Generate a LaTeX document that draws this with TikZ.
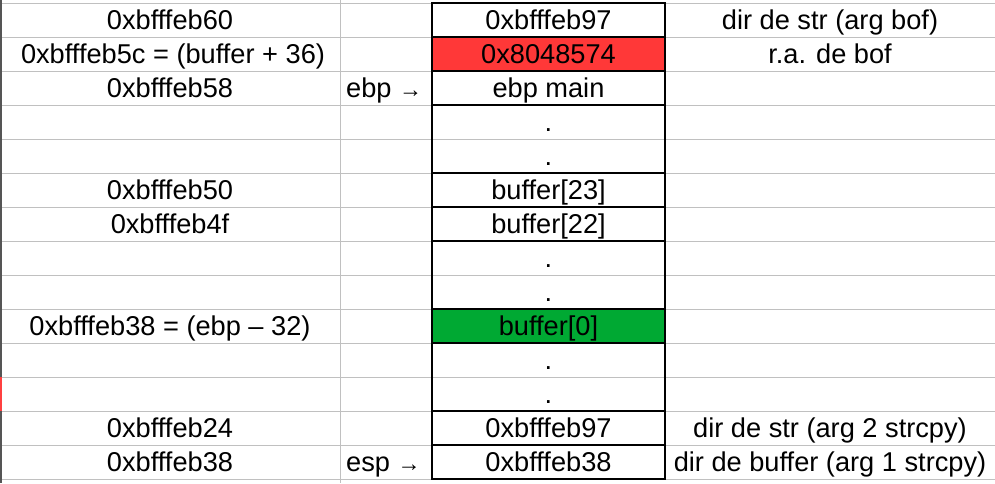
\documentclass[tikz,border=0pt]{standalone}
\usepackage{fontspec}
\setmainfont{Liberation Sans}
\definecolor{gridgray}{HTML}{C0C0C0}
\definecolor{edgegray}{HTML}{555555}
\definecolor{cellred}{HTML}{FF3838}
\definecolor{cellgreen}{HTML}{00A933}
\newcommand{\regarrow}{{\fontsize{23}{26}\selectfont →}}
\begin{document}
\begin{tikzpicture}[x=1pt,y=-1pt,
  txt/.style={font=\fontsize{27.2}{31}\selectfont, inner sep=0pt, anchor=base},
  cell/.style={draw=black, line width=1.6pt, minimum width=233pt, minimum height=34pt,
    inner sep=0pt, font=\fontsize{27.2}{31}\selectfont, text height=24pt, text depth=5.4pt},
  gridline/.style={draw=gridgray, line width=0.8pt}]
\useasboundingbox (0,0) rectangle (995,483);
\fill[white] (0,0) rectangle (995,483);
% spreadsheet grid
\foreach \k in {0,...,14} \draw[gridline] (0,3+34*\k) -- (995,3+34*\k);
\draw[gridline] (340,0) -- (340,483);
\draw[edgegray, line width=1.6pt] (1,0) -- (1,483);
\draw[red!75!white, line width=2pt] (1,377) -- (1,411);
% stack column
\node[cell] (c1) at (548.5,20) {0xbfffeb97};
\node[cell, fill=cellred] (c2) at (548.5,54) {0x8048574};
\node[cell] (c3) at (548.5,88) {ebp main};
\node[cell, minimum height=68pt] (c45) at (548.5,139) {};
\node[cell] (c6) at (548.5,190) {buffer[23]};
\node[cell] (c7) at (548.5,224) {buffer[22]};
\node[cell, minimum height=68pt] (c89) at (548.5,275) {};
\node[cell, fill=cellgreen] (c10) at (548.5,326) {buffer[0]};
\node[cell, minimum height=68pt] (c1112) at (548.5,377) {};
\node[cell] (c13) at (548.5,428) {0xbfffeb97};
\node[cell] (c14) at (548.5,462) {0xbfffeb38};
% elided entries
\node[txt] (d4) at (548.5,131.3) {.};
\node[txt] (d5) at (548.5,165.3) {.};
\node[txt] (d8) at (548.5,267.3) {.};
\node[txt] (d9) at (548.5,301.3) {.};
\node[txt] (d11) at (548.5,369.3) {.};
\node[txt] (d12) at (548.5,403.3) {.};
% addresses
\node[txt] (a1) at (170,29.3) {0xbfffeb60};
\node[txt] (a2) at (173,63.3) {0xbfffeb5c = (buffer + 36)};
\node[txt] (a3) at (170,97.3) {0xbfffeb58};
\node[txt] (a6) at (170,199.3) {0xbfffeb50};
\node[txt] (a7) at (170,233.3) {0xbfffeb4f};
\node[txt] (a10) at (170,335.3) {0xbfffeb38 = (ebp – 32)};
\node[txt] (a13) at (170,437.3) {0xbfffeb24};
\node[txt] (a14) at (170,471.3) {0xbfffeb38};
% registers
\node[txt, anchor=base west] (ebp) at (346,97.3) {ebp \regarrow};
\node[txt, anchor=base west] (esp) at (346,471.3) {esp \regarrow};
% descriptions
\node[txt] (n1) at (830,29.3) {dir de str (arg bof)};
\node[txt] (n2) at (830,63.3) {r.a. de bof};
\node[txt] (n13) at (830,437.3) {dir de str (arg 2 strcpy)};
\node[txt] (n14) at (830,471.3) {dir de buffer (arg 1 strcpy)};
\end{tikzpicture}
\end{document}
